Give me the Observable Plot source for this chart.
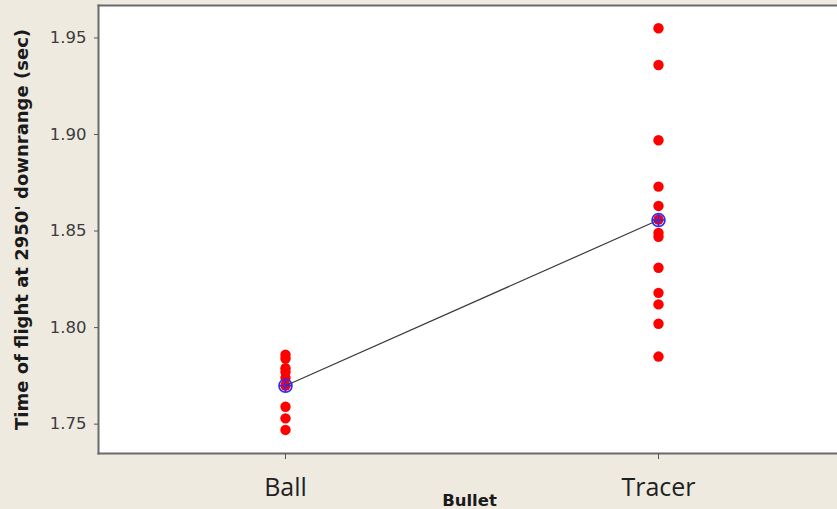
<!DOCTYPE html>
<html>
<head>
<meta charset="utf-8">
<script src="https://cdn.jsdelivr.net/npm/d3@7"></script>
<script src="https://cdn.jsdelivr.net/npm/@observablehq/plot@0.6"></script>
<style>
  html, body { margin: 0; padding: 0; background: #EEEAE0; overflow: hidden; }
  #chart svg { display: block; }
</style>
</head>
<body>
<div id="chart"></div>
<script>
// Time of flight at 2950' downrange, individual shots by bullet type
const bullets = ["Ball", "Tracer"];
const ballTimes = [1.786, 1.784, 1.779, 1.777, 1.774, 1.770, 1.759, 1.753, 1.747];
const tracerTimes = [1.955, 1.936, 1.897, 1.873, 1.863, 1.856, 1.849, 1.847, 1.831, 1.818, 1.812, 1.802, 1.785];
const yTicks = [1.75, 1.80, 1.85, 1.90, 1.95];
const yLabel = "Time of flight at 2950' downrange (sec)";
const xLabel = "Bullet";

const shots = [
  ...ballTimes.map(t => ({bullet: "Ball", time: t})),
  ...tracerTimes.map(t => ({bullet: "Tracer", time: t}))
];
const means = bullets.map(b => ({
  bullet: b,
  time: d3.mean(shots.filter(s => s.bullet === b), s => s.time)
}));

// circle with a crosshair, used for the group means
const crosshair = {
  draw(context, size) {
    const r = Math.sqrt(size / Math.PI);
    context.moveTo(r, 0);
    context.arc(0, 0, r, 0, 2 * Math.PI);
    context.moveTo(-r, 0); context.lineTo(r, 0);
    context.moveTo(0, -r); context.lineTo(0, r);
  }
};

const chart = Plot.plot({
  width: 837,
  height: 509,
  marginLeft: 98,
  marginRight: -7,
  marginTop: 5,
  marginBottom: 56,
  style: {background: "transparent", fontFamily: "DejaVu Sans, sans-serif", overflow: "hidden"},
  x: {type: "point", domain: bullets, padding: 0.5},
  y: {domain: [1.7348, 1.9668]},
  marks: [
    Plot.frame({fill: "white", stroke: null}),
    Plot.dot(shots, {x: "bullet", y: "time", r: 5.2, fill: "#ff0000", stroke: "none"}),
    Plot.line(means, {x: "bullet", y: "time", stroke: "#3a3a3a", strokeWidth: 1.2}),
    Plot.dot(means, {x: "bullet", y: "time", r: 6.5, symbol: crosshair, fill: "none", stroke: "#2b2bff", strokeWidth: 1.6}),
    Plot.frame({anchor: "top", stroke: "#6a6a6a", strokeWidth: 2}),
    Plot.frame({anchor: "left", stroke: "#6a6a6a", strokeWidth: 2}),
    Plot.frame({anchor: "bottom", stroke: "#6a6a6a", strokeWidth: 2}),
    Plot.axisY({
      ticks: yTicks, tickFormat: d => d.toFixed(2), tickSize: 4, tickPadding: 8,
      fontSize: 16.5, color: "#3c3c3c", stroke: "#555", label: null
    }),
    Plot.axisX({
      tickSize: 6, tickPadding: 19, fontSize: 25, fontFamily: "Open Sans, sans-serif",
      color: "#1f1f1f", stroke: "#555", label: null
    }),
    Plot.text([yLabel], {
      frameAnchor: "left", text: d => d, rotate: -90, dx: -76,
      textAnchor: "middle", lineAnchor: "middle",
      fontWeight: "bold", fontSize: 18, fill: "#1a1a1a"
    }),
    Plot.text([xLabel], {
      frameAnchor: "bottom", text: d => d, dy: 47, dx: -2,
      textAnchor: "middle", lineAnchor: "middle",
      fontWeight: "bold", fontSize: 16.5, fill: "#1a1a1a"
    })
  ]
});

document.getElementById("chart").append(chart);
</script>
</body>
</html>
